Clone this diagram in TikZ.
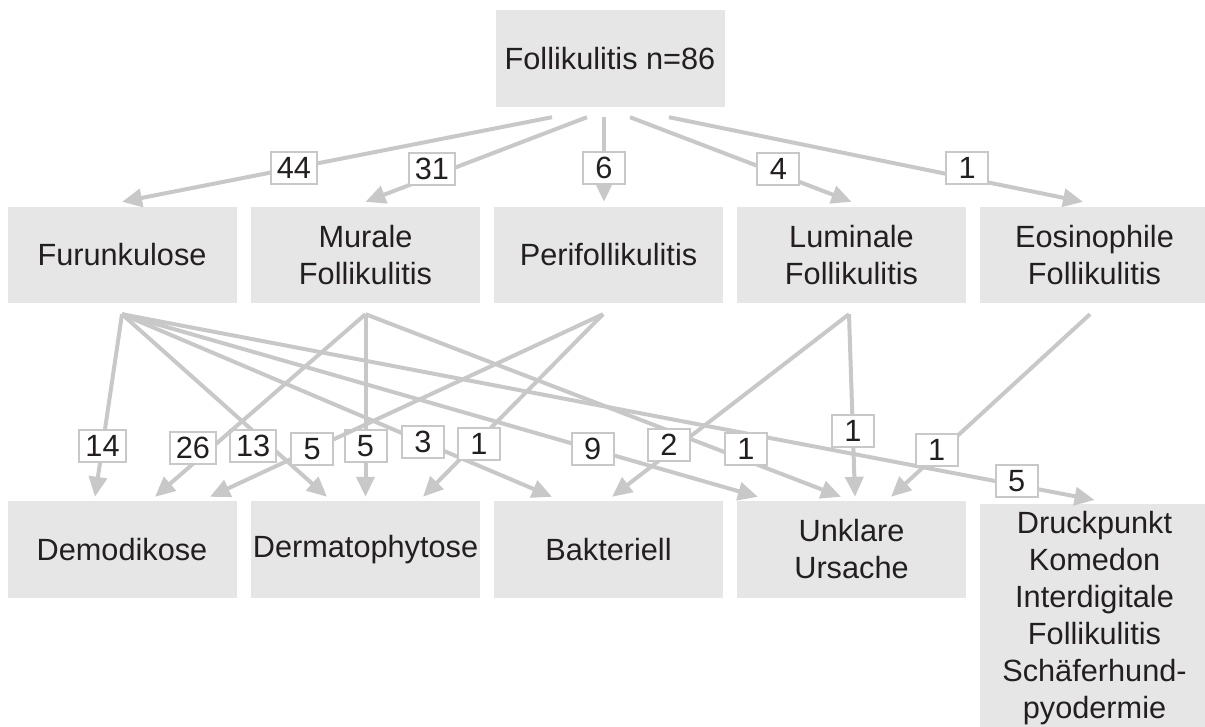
\documentclass[tikz,border=0pt]{standalone}
\usepackage{fontspec}
\setmainfont{Liberation Sans}
\usetikzlibrary{arrows.meta}
\definecolor{boxgray}{RGB}{230,230,230}
\definecolor{linegray}{RGB}{200,200,200}
\definecolor{txtdark}{RGB}{35,31,32}

\begin{document}
\begin{tikzpicture}[x=1pt, y=-1pt,
	box/.style={fill=boxgray, text=txtdark, minimum width=229pt, minimum height=96pt,
		align=center, inner sep=0pt, font=\fontsize{30.7}{37}\selectfont},
	num/.style={draw=linegray, line width=2pt, fill=white, text=txtdark,
		minimum width=42pt, minimum height=32pt, inner xsep=6pt, inner ysep=4pt,
		font=\fontsize{30.7}{37}\selectfont},
	arr/.style={draw=linegray, line width=4pt, -{Triangle[length=20pt, width=18pt]}}]
		\useasboundingbox (0, 0) rectangle (1205, 726);
		% boxes
		\node [box, minimum height=97pt] (top) at (610, 58.5) {Follikulitis n=86};
		\node [box] (fu) at (122, 255) {Furunkulose};
		\node [box] (mu) at (365.5, 255) {Murale\\Follikulitis};
		\node [box] (pe) at (608.5, 255) {Perifollikulitis};
		\node [box] (lu) at (851.5, 255) {Luminale\\Follikulitis};
		\node [box] (eo) at (1094.5, 255) {Eosinophile\\Follikulitis};
		\node [box, minimum height=97pt] (de) at (122, 549.5) {Demodikose};
		\node [box, minimum height=97pt] (dm) at (365.5, 549.5) {Dermatophytose};
		\node [box, minimum height=97pt] (ba) at (608.5, 549.5) {Bakteriell};
		\node [box, minimum height=97pt] (un) at (851.5, 549.5) {Unklare\\Ursache};
		\node [box, anchor=north, minimum height=227pt] (dr) at (1094.5, 504)
		{Druckpunkt\\Komedon\\Interdigitale\\Follikulitis\\Schäferhund-\\pyodermie};
		% top -> middle
		\draw [arr] ([xshift=-58pt, yshift=-10pt]top.south) -- ([yshift=5pt]fu.north)
		node [num, pos=0.6] (top-fu) {44};
		\draw [arr] ([xshift=-23pt, yshift=-10pt]top.south) -- ([yshift=5pt]mu.north)
		node [num, pos=0.7, yshift=7pt] (top-mu) {31};
		\draw [arr] ([xshift=-6pt, yshift=-10pt]top.south) -- ([xshift=-4.5pt, yshift=5pt]pe.north)
		node [num, pos=0.6] (top-pe) {6};
		\draw [arr] ([xshift=20pt, yshift=-10pt]top.south) -- ([yshift=5pt]lu.north)
		node [num, pos=0.67, yshift=5pt] (top-lu) {4};
		\draw [arr] ([xshift=59pt, yshift=-10pt]top.south) -- ([xshift=-11.5pt, yshift=5pt]eo.north)
		node [num, pos=0.72, yshift=10pt] (top-eo) {1};
		% Furunkulose
		\draw [arr] ([yshift=-11pt]fu.south) -- ([xshift=-27pt, yshift=4pt]de.north)
		node [num, pos=0.72] (fu-de) {14};
		\draw [arr] ([yshift=-11pt]fu.south) -- ([xshift=-38.5pt, yshift=4pt]dm.north)
		node [num, pos=0.64, yshift=-15pt] (fu-dm) {13};
		\draw [arr] ([yshift=-11pt]fu.south) -- ([xshift=-56.5pt, yshift=4pt]ba.north)
		node [num, pos=0.7] (fu-ba) {3};
		\draw [arr] ([yshift=-11pt]fu.south) -- ([xshift=-93.5pt, yshift=4pt]un.north)
		node [num, pos=0.74] (fu-un) {9};
		\draw [arr] ([yshift=-11pt]fu.south) -- ([yshift=4pt]dr.north)
		node [num, pos=0.92, yshift=4pt] (fu-dr) {5};
		% Murale Follikulitis
		\draw [arr] ([yshift=-11pt]mu.south) -- ([xshift=33pt, yshift=4pt]de.north)
		node [num, pos=0.82, yshift=16pt] (mu-de) {26};
		\draw [arr] ([yshift=-11pt]mu.south) -- ([yshift=4pt]dm.north)
		node [num, pos=0.72] (mu-dm) {5};
		\draw [arr] ([yshift=-11pt]mu.south) -- ([xshift=-10.5pt, yshift=4pt]un.north)
		node [num, pos=0.8, yshift=11pt] (mu-un) {1};
		% Perifollikulitis
		\draw [arr] ([xshift=-5.5pt, yshift=-11pt]pe.south) -- ([xshift=88pt, yshift=4pt]de.north)
		node [num, pos=0.74] (pe-de) {5};
		\draw [arr] ([xshift=-5.5pt, yshift=-11pt]pe.south) -- ([xshift=57.5pt, yshift=4pt]dm.north)
		node [num, pos=0.69, yshift=-4pt] (pe-dm) {1};
		% Luminale und Eosinophile Follikulitis
		\draw [arr] ([xshift=-2.5pt, yshift=-11pt]lu.south) -- ([xshift=3.5pt, yshift=4pt]ba.north)
		node [num, pos=0.76, yshift=8pt] (lu-ba) {2};
		\draw [arr] ([xshift=-2.5pt, yshift=-11pt]lu.south) -- ([xshift=3.5pt, yshift=4pt]un.north)
		node [num, pos=0.64] (lu-un) {1};
		\draw [arr] ([xshift=-4.5pt, yshift=-11pt]eo.south) -- ([xshift=39.5pt, yshift=4pt]un.north)
		node [num, pos=0.77, yshift=5pt] (eo-un) {1};
\end{tikzpicture}
\end{document}
